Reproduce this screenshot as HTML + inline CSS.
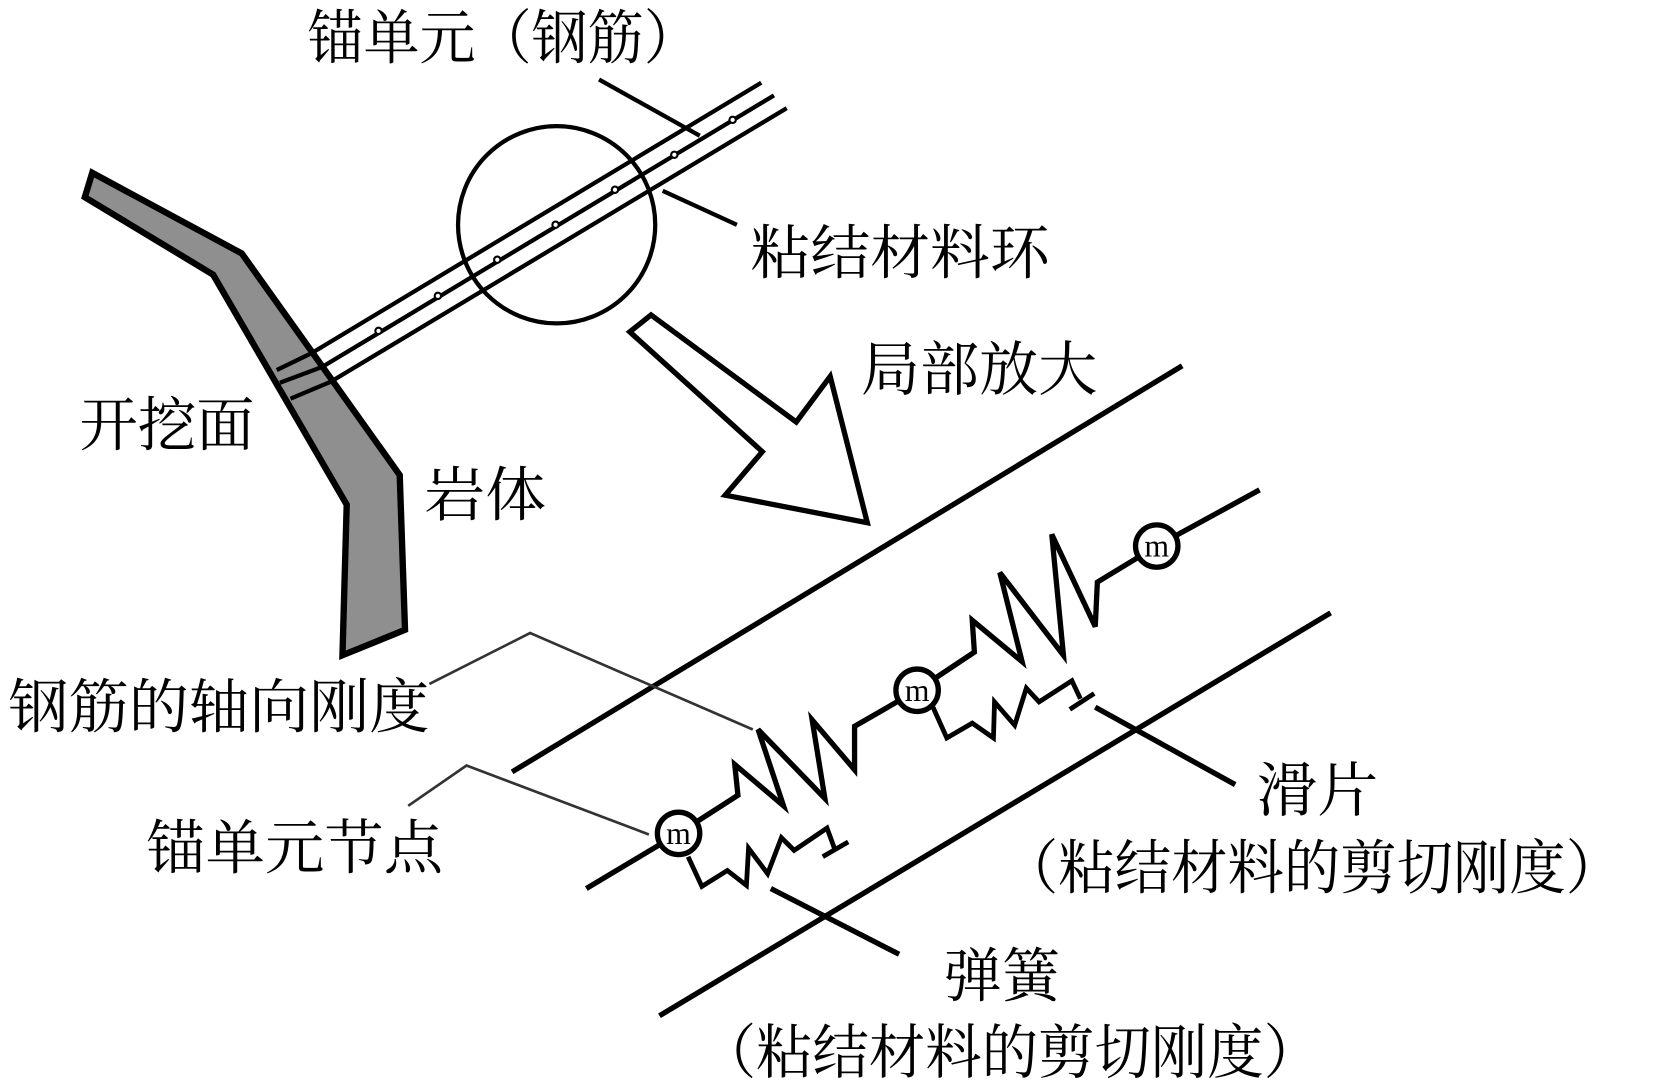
<!DOCTYPE html>
<html><head><meta charset="utf-8"><style>
html,body{margin:0;padding:0;background:#fff;width:1654px;height:1090px;overflow:hidden}
svg{display:block}
text{font-family:"Liberation Serif","Noto Serif CJK SC",serif;font-size:56px;fill:#000}
</style></head><body>
<svg width="1654" height="1090" viewBox="0 0 1560 1028" preserveAspectRatio="none" xmlns="http://www.w3.org/2000/svg">
<g fill="none" stroke="#000" stroke-linejoin="miter">
<polygon points="87,163 228,239 377,448 382,594 323,618 327,476 201,259 80,186" fill="#8f8f8f" stroke-width="6"/>
<polyline points="261,349 294,333 718,78" stroke-width="4"/>
<polyline points="264,361 304,346 730,90" stroke-width="4"/>
<polyline points="274,376 312,360 742,102" stroke-width="4"/>
<g stroke-width="2" fill="#fff">
<circle cx="357" cy="312" r="3"/><circle cx="413" cy="279" r="3"/><circle cx="469" cy="245" r="3"/><circle cx="524" cy="212" r="3"/><circle cx="580" cy="179" r="3"/><circle cx="636" cy="146" r="3"/><circle cx="691" cy="113" r="3"/>
</g>
<circle cx="525" cy="212" r="93" stroke-width="4"/>
<line x1="565" y1="75" x2="660" y2="128" stroke-width="4"/>
<line x1="625" y1="180" x2="695" y2="212" stroke-width="4"/>
<polygon points="594,313 614,297 751,398 783,355 818,493 684,467 719,426" stroke-width="5" fill="#fff"/>
<line x1="483" y1="728" x2="1115" y2="345" stroke-width="5"/>
<line x1="622" y1="958" x2="1255" y2="578" stroke-width="5"/>
<line x1="553" y1="838" x2="640" y2="786" stroke-width="5"/>
<line x1="1091" y1="515" x2="1188" y2="462" stroke-width="5"/>
<polyline points="405,645 500,597 710,688" stroke="#333" stroke-width="2.5"/>
<polyline points="385,760 440,722 612,787" stroke="#333" stroke-width="2.5"/>
<polyline points="640,786 696,750 693,721 739,760 715,688 778,753 766,679 806,726 806,685 865,651" stroke-width="5"/>
<polyline points="865,651 919,615 917,585 964,624 943,540 1003,618 992,504 1033,591 1035,549 1091,515" stroke-width="5"/>
<polyline points="649,808 662,836 686,821 704,835 706,800 724,824 737,790 749,802 780,781 787,800" stroke-width="4.5"/>
<line x1="776" y1="808" x2="800" y2="794" stroke-width="4.5"/>
<polyline points="880,667 893,696 917,682 937,696 938,662 957,684 968,649 980,662 1011,642 1019,659" stroke-width="4.5"/>
<line x1="1009" y1="669" x2="1032" y2="654" stroke-width="4.5"/>
<line x1="1033" y1="667" x2="1165" y2="740" stroke-width="5"/>
<line x1="727" y1="838" x2="848" y2="900" stroke-width="5"/>
<g fill="#fff" stroke-width="5">
<circle cx="640" cy="786" r="20"/><circle cx="865" cy="651" r="20"/><circle cx="1091" cy="515" r="20"/>
</g>
</g>
<text x="640" y="796" text-anchor="middle" style="font-size:30px">m</text>
<text x="865" y="661" text-anchor="middle" style="font-size:30px">m</text>
<text x="1091" y="525" text-anchor="middle" style="font-size:30px">m</text>
<text x="290" y="55" textLength="370" lengthAdjust="spacingAndGlyphs">锚单元（钢筋）</text>
<text x="708" y="258" textLength="282" lengthAdjust="spacingAndGlyphs">粘结材料环</text>
<text x="812" y="368" textLength="223" lengthAdjust="spacingAndGlyphs">局部放大</text>
<text x="75" y="420" textLength="165" lengthAdjust="spacingAndGlyphs">开挖面</text>
<text x="400" y="486" textLength="115" lengthAdjust="spacingAndGlyphs">岩体</text>
<text x="8" y="686" textLength="397" lengthAdjust="spacingAndGlyphs">钢筋的轴向刚度</text>
<text x="138" y="819" textLength="280" lengthAdjust="spacingAndGlyphs">锚单元节点</text>
<text x="1185" y="765" textLength="115" lengthAdjust="spacingAndGlyphs">滑片</text>
<text x="945" y="838" textLength="585" lengthAdjust="spacingAndGlyphs">（粘结材料的剪切刚度）</text>
<text x="890" y="940" textLength="110" lengthAdjust="spacingAndGlyphs">弹簧</text>
<text x="660" y="1012" textLength="585" lengthAdjust="spacingAndGlyphs">（粘结材料的剪切刚度）</text>
</svg>
</body></html>
